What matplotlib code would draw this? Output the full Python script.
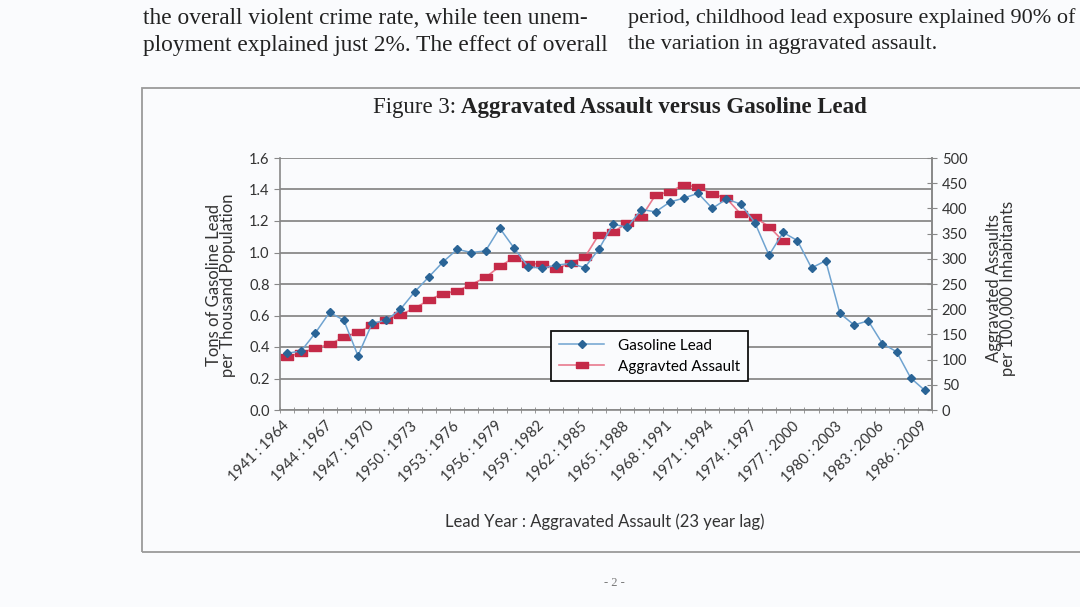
import matplotlib
matplotlib.use("Agg")
import matplotlib.pyplot as plt
import numpy as np
from matplotlib.patches import Rectangle

# lead years 1941..1986, assault years are 23 years later
lead_years = list(range(1941, 1987))
gas_lead = [0.36, 0.375, 0.49, 0.62, 0.57, 0.345, 0.55, 0.57, 0.64, 0.75,
            0.845, 0.94, 1.02, 1.0, 1.01, 1.155, 1.03, 0.91, 0.90, 0.92,
            0.93, 0.904, 1.022, 1.18, 1.16, 1.273, 1.258, 1.32, 1.346, 1.376,
            1.28, 1.34, 1.307, 1.19, 0.983, 1.127, 1.076, 0.902, 0.948, 0.614,
            0.54, 0.566, 0.422, 0.37, 0.203, 0.124]
assault = [106, 113, 123, 130, 145, 154, 168, 179, 189, 202,
           218, 231, 236, 249, 263, 285, 302, 290, 290, 280,
           292, 303, 348, 353, 371, 383, 427, 433, 447, 442,
           429, 420, 389, 382, 364, 335]
tick_years = lead_years[::3]
tick_labels = ["%d : %d" % (y, y + 23) for y in tick_years]

W, H = 1080, 607
bg = "#fafbfd"
sans = ["Lato", "DejaVu Sans"]
serif = ["Liberation Serif", "DejaVu Serif"]

fig = plt.figure(figsize=(W / 100, H / 100), dpi=100, facecolor=bg)

def fx(px):
    return px / W

def fy(py):
    return 1 - py / H

# page text above the figure box
body = dict(family=serif, fontsize=16.8, va="center", color="#222222")
fig.text(fx(143), fy(18), "the overall violent crime rate, while teen unem-", **body)
fig.text(fx(143), fy(45), "ployment explained just 2%. The effect of overall", **body)
body["fontsize"] = 16.0
fig.text(fx(628), fy(18), "period, childhood lead exposure explained 90% of", **body)
fig.text(fx(628), fy(45), "the variation in aggravated assault.", **body)
fig.text(fx(614), fy(583), "- 2 -", family=serif, fontsize=9, ha="center",
         va="center", color="#777777")

# box around the figure
fig.patches.append(Rectangle((fx(142), fy(552)), fx(1000), fy(88) - fy(552),
                             transform=fig.transFigure, fill=False,
                             edgecolor="#9a9a9a", linewidth=1.3))

# title
fig.text(fx(456), fy(107), "Figure 3:", family=serif, fontsize=16.5,
         ha="right", va="center", color="#222222")
fig.text(fx(461), fy(107), "Aggravated Assault versus Gasoline Lead",
         family=serif, fontsize=16.5, fontweight="bold", ha="left",
         va="center", color="#222222")

ax = fig.add_axes([fx(280), fy(410), fx(932) - fx(280), fy(158) - fy(410)])
ax.set_facecolor(bg)
x = np.arange(len(lead_years))

ax.set_xlim(-0.5, len(lead_years) - 0.5)
ax.set_ylim(0, 1.6)
ax.set_yticks(np.arange(0, 1.61, 0.2))
ax.set_yticklabels(["%.1f" % v for v in np.arange(0, 1.61, 0.2)])
ax.yaxis.grid(True, color="#808080", linewidth=1.2)
ax.set_axisbelow(True)

ax.set_xticks([lead_years.index(y) for y in tick_years])
ax.set_xticklabels(tick_labels, rotation=45, ha="right", va="center",
                   rotation_mode="anchor", family=sans, fontsize=10.5,
                   color="#333333")
ax.set_xticks(np.arange(-0.5, len(lead_years)), minor=True)
ax.tick_params(axis="x", which="major", length=0, pad=10)
ax.tick_params(axis="x", which="minor", direction="inout", length=5,
               color="#888888")
ax.tick_params(axis="y", direction="out", length=4, color="#888888",
               labelsize=10.5, labelcolor="#333333")
for lab in ax.get_yticklabels():
    lab.set_family(sans)

ax.spines["top"].set_visible(False)
for s in ["left", "right", "bottom"]:
    ax.spines[s].set_color("#888888")
    ax.spines[s].set_linewidth(1.2)

ax2 = ax.twinx()
ax2.set_ylim(0, 500)
ax2.set_yticks(np.arange(0, 501, 50))
ax2.tick_params(axis="y", direction="inout", length=7, color="#888888",
                labelsize=10.5, labelcolor="#333333")
for lab in ax2.get_yticklabels():
    lab.set_family(sans)
ax2.spines["top"].set_visible(False)
ax2.spines["right"].set_color("#888888")
ax2.spines["right"].set_linewidth(1.2)
ax2.spines["left"].set_visible(False)
ax2.spines["bottom"].set_visible(False)

rect = [(-1.4, -0.6), (1.4, -0.6), (1.4, 0.6), (-1.4, 0.6), (-1.4, -0.6)]
l2, = ax2.plot(x[:len(assault)], assault, color="#e97a8e", linewidth=1.2,
               marker=rect, markersize=8.5, markerfacecolor="#c42a48",
               markeredgecolor="#c42a48", label="Aggravted Assault")
l1, = ax2.plot(x, np.array(gas_lead) * 312.5, color="#6fa3d0", linewidth=1.1,
               marker="D", markersize=4.5, markerfacecolor="#2a6496",
               markeredgecolor="#2a6496", label="Gasoline Lead")

leg = ax2.legend(handles=[l1, l2], loc="upper left",
                 bbox_to_anchor=(fx(551), fy(331)),
                 bbox_transform=fig.transFigure, frameon=True,
                 fancybox=False, framealpha=1, edgecolor="#111111",
                 facecolor=bg, prop={"family": sans, "size": 11},
                 handlelength=3.0, handletextpad=0.9, borderpad=0.5,
                 borderaxespad=0, labelspacing=0.45)
leg.get_frame().set_linewidth(1.3)

fig.text(fx(221), fy(285), "Tons of Gasoline Lead\nper Thousand Population",
         family=sans, fontsize=12, rotation=90, ha="center", va="center",
         color="#333333", linespacing=0.9)
fig.text(fx(1001), fy(288), "Aggravated Assaults\nper 100,000 Inhabitants",
         family=sans, fontsize=12, rotation=90, ha="center", va="center",
         color="#333333", linespacing=0.9)
fig.text(fx(605), fy(522), "Lead Year : Aggravated Assault (23 year lag)",
         family=sans, fontsize=12, ha="center", va="center",
         color="#333333")

fig.savefig("out.png", dpi=100, facecolor=bg)
